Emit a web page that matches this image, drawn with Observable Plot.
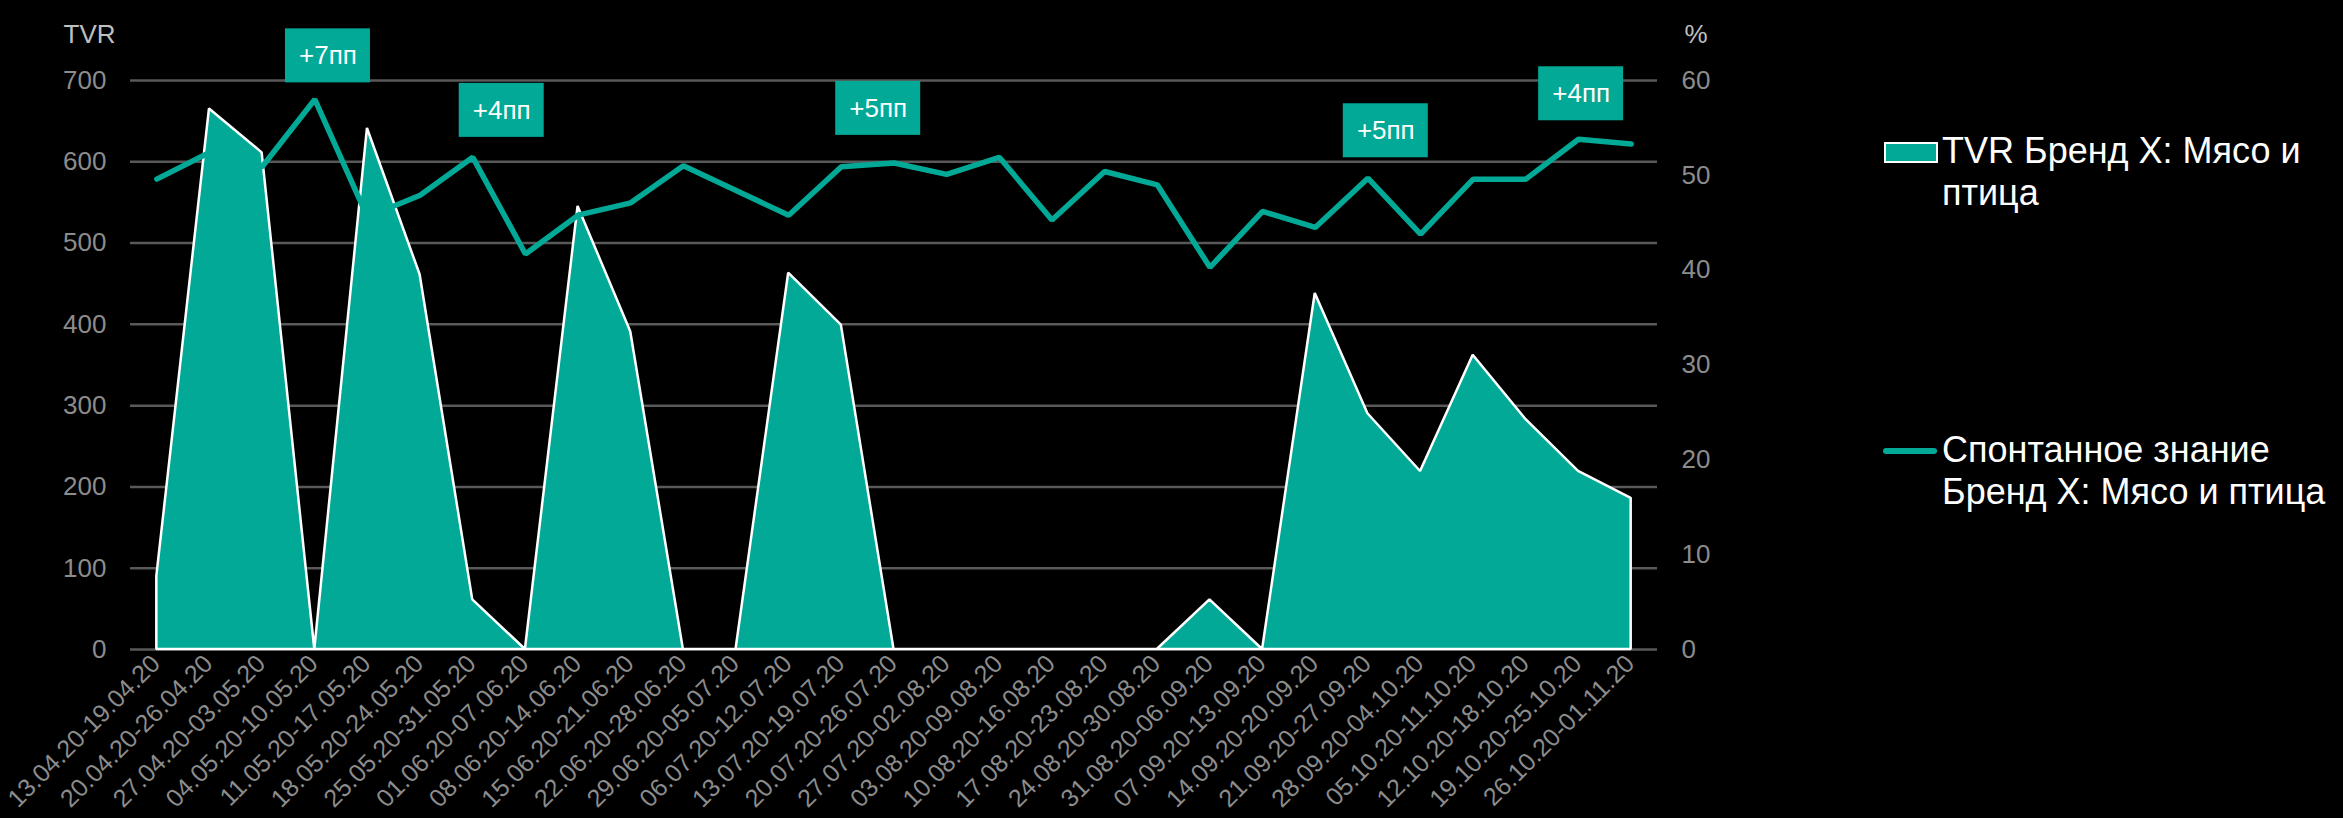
<!DOCTYPE html>
<html>
<head>
<meta charset="utf-8">
<script src="https://cdn.jsdelivr.net/npm/d3@7"></script>
<script src="https://cdn.jsdelivr.net/npm/@observablehq/plot@0.6"></script>
<style>
  html, body { margin: 0; padding: 0; background: #000; }
  #wrap { position: relative; width: 2343px; height: 818px; background: #000; font-family: "Liberation Sans", Arial, sans-serif; overflow: hidden; }
  #chart { position: absolute; left: 0; top: 0; }
  .leg { position: absolute; color: #fff; font-size: 36px; line-height: 41.5px; white-space: nowrap; }
  .sw { position: absolute; }
</style>
</head>
<body>
<div id="wrap">
  <div id="chart"></div>
  <div class="sw" style="left:1884px; top:142px; width:50px; height:17px; background:#02a996; border:2px solid #fff;"></div>
  <div class="leg" style="left:1942px; top:130px;">TVR Бренд X: Мясо и<br>птица</div>
  <div class="sw" style="left:1883px; top:448px; width:54px; height:5.5px; background:#02a996; border-radius:3px;"></div>
  <div class="leg" style="left:1942px; top:429px;">Спонтанное знание<br>Бренд X: Мясо и птица</div>
</div>
<script>
const periods = ["13.04.20-19.04.20", "20.04.20-26.04.20", "27.04.20-03.05.20", "04.05.20-10.05.20", "11.05.20-17.05.20", "18.05.20-24.05.20", "25.05.20-31.05.20", "01.06.20-07.06.20", "08.06.20-14.06.20", "15.06.20-21.06.20", "22.06.20-28.06.20", "29.06.20-05.07.20", "06.07.20-12.07.20", "13.07.20-19.07.20", "20.07.20-26.07.20", "27.07.20-02.08.20", "03.08.20-09.08.20", "10.08.20-16.08.20", "17.08.20-23.08.20", "24.08.20-30.08.20", "31.08.20-06.09.20", "07.09.20-13.09.20", "14.09.20-20.09.20", "21.09.20-27.09.20", "28.09.20-04.10.20", "05.10.20-11.10.20", "12.10.20-18.10.20", "19.10.20-25.10.20", "26.10.20-01.11.20"];

const tvr = [90, 665, 611, 0, 641, 461, 61, 0, 545, 391, 0, 0, 463, 399, 0, 0, 0, 0, 0, 0, 61, 0, 438, 290, 219, 362, 283, 219, 186];

const awareness = [49.6, 52.4, 50.9, 58.0, 45.6, 47.9, 51.9, 41.7, 45.8, 47.1, 51.0, 48.4, 45.8, 50.9, 51.3, 50.1, 51.9, 45.3, 50.4, 49.0, 40.3, 46.2, 44.5, 49.7, 43.8, 49.6, 49.6, 53.8, 53.3];

const tvrTicks = [0, 100, 200, 300, 400, 500, 600, 700];
const pctTicks = [0, 10, 20, 30, 40, 50, 60];

const annLabels = ["+7пп", "+4пп", "+5пп", "+5пп", "+4пп"];
const annX = [3.25, 6.55, 13.70, 23.34, 27.05];
const annY = [62.6, 56.85, 57.06, 54.7, 58.6];

const TEAL = "#02a996";
const TVR_MAX = 700, PCT_MAX = 60;
const toTvr = p => p * TVR_MAX / PCT_MAX;

const idx = d3.range(periods.length);
const annIdx = d3.range(annLabels.length);

const chart = Plot.plot({
  width: 2343,
  height: 818,
  marginLeft: 130,
  marginRight: 686,
  marginTop: 80,
  marginBottom: 169,
  style: { background: "#000", fontFamily: "Liberation Sans, Arial, sans-serif", overflow: "visible" },
  x: { type: "linear", domain: [-0.5, periods.length - 0.5], axis: null },
  y: { domain: [0, TVR_MAX], nice: false },
  marks: [
    Plot.gridY(tvrTicks, { stroke: "#595959", strokeOpacity: 1, strokeWidth: 2.5 }),
    Plot.axisY({ anchor: "left", ticks: tvrTicks, tickSize: 0, tickPadding: 24, fontSize: 26, fill: "#8c8c8c", label: null }),
    Plot.axisY({ anchor: "right", ticks: pctTicks.map(toTvr), tickFormat: d => String(Math.round(d * PCT_MAX / TVR_MAX)), tickSize: 0, tickPadding: 24, fontSize: 26, fill: "#8c8c8c", label: null }),
    Plot.text(idx, { x: i => i, frameAnchor: "bottom", text: i => periods[i], rotate: -45, textAnchor: "end", lineAnchor: "middle", dx: -1, dy: 10, fontSize: 25, fill: "#8c8c8c" }),
    Plot.text(["TVR"], { frameAnchor: "top-left", dx: -67, dy: -56, textAnchor: "start", fontSize: 26, fill: "#bfbfbf" }),
    Plot.text(["%"], { frameAnchor: "top-right", dx: 27, dy: -56, textAnchor: "start", fontSize: 26, fill: "#bfbfbf" }),
    Plot.areaY(idx, { x: i => i, y: i => tvr[i], fill: TEAL, stroke: "#fff", strokeWidth: 2.5, strokeLinejoin: "miter", curve: "linear" }),
    Plot.lineY(idx, { x: i => i, y: i => toTvr(awareness[i]), stroke: TEAL, strokeWidth: 5.5, strokeLinejoin: "miter", strokeLinecap: "round", curve: "linear" }),
    Plot.rect(annIdx, { x1: i => annX[i], x2: i => annX[i], y1: i => toTvr(annY[i]), y2: i => toTvr(annY[i]), insetLeft: -42.5, insetRight: -42.5, insetTop: -27, insetBottom: -27, fill: TEAL }),
    Plot.text(annIdx, { x: i => annX[i], y: i => toTvr(annY[i]), text: i => annLabels[i], fill: "#fff", fontSize: 26 })
  ]
});
document.getElementById("chart").appendChild(chart);
</script>
</body>
</html>
